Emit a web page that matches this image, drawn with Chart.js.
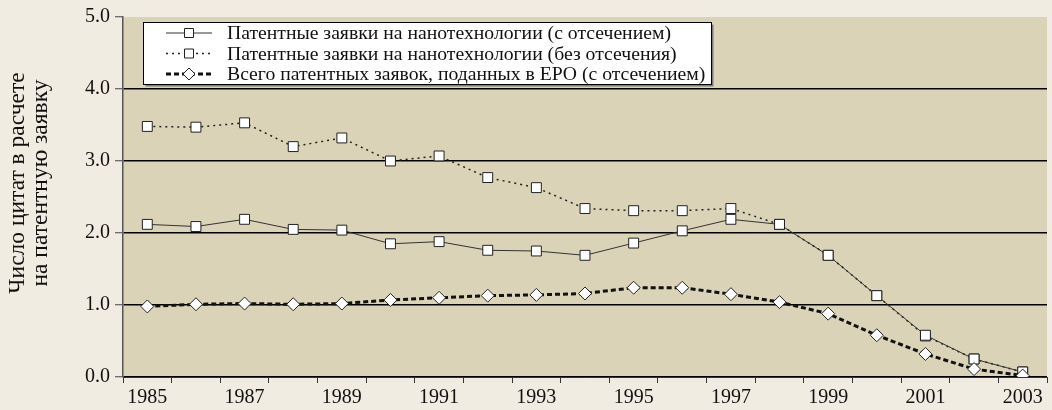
<!DOCTYPE html>
<html lang="ru">
<head>
<meta charset="utf-8">
<title>Число цитат в расчете на патентную заявку</title>
<script src="https://cdn.jsdelivr.net/npm/chart.js@4"></script>
<style>
    html, body { margin: 0; padding: 0; overflow: hidden; background: #f0ece2; }
    #chartBox { width: 1055px; height: 410px; }
</style>
</head>
<body>
<div id="chartBox"><canvas id="citationChart" width="1055" height="410"></canvas></div>
<script>
// --------------- data -----------------
let years = ['1985', '1986', '1987', '1988', '1989', '1990', '1991', '1992', '1993', '1994',
             '1995', '1996', '1997', '1998', '1999', '2000', '2001', '2002', '2003'];

let nanoWithCutoff = [2.12, 2.09, 2.19, 2.05, 2.04, 1.85, 1.88, 1.76, 1.75, 1.69,
                      1.86, 2.03, 2.19, 2.12, 1.69, 1.13, 0.58, 0.25, 0.07];
let nanoNoCutoff = [3.48, 3.47, 3.53, 3.20, 3.32, 3.00, 3.07, 2.77, 2.63, 2.34,
                    2.31, 2.31, 2.34, 2.12, 1.69, 1.13, 0.57, 0.25, 0.07];
let allEpoWithCutoff = [0.98, 1.01, 1.02, 1.01, 1.02, 1.07, 1.10, 1.13, 1.14, 1.16,
                        1.24, 1.24, 1.15, 1.04, 0.88, 0.58, 0.32, 0.11, 0.02];

let seriesLabels = [
    'Патентные заявки на нанотехнологии (с отсечением)',
    'Патентные заявки на нанотехнологии (без отсечения)',
    'Всего патентных заявок, поданных в EPO (с отсечением)'
];
let yTitle = ['Число цитат в расчете', 'на патентную заявку'];

const FONT_FAMILY = '"Liberation Serif", "DejaVu Serif", serif';
const PLOT_BG = '#dad3b7';
const PAGE_BG = '#f0ece2';

// --------------- plugins -----------------
// paints page and plot background
let backgroundPlugin = {
    id: 'backgrounds',
    beforeDraw: function(chart) {
        let ctx = chart.ctx;
        let area = chart.chartArea;
        ctx.save();
        ctx.fillStyle = PAGE_BG;
        ctx.fillRect(0, 0, chart.width, chart.height);
        ctx.fillStyle = PLOT_BG;
        ctx.fillRect(area.left, area.top, area.right - area.left, area.bottom - area.top);
        ctx.restore();
    }
};

// y axis title, two lines, a bit above the middle of the axis
let yTitlePlugin = {
    id: 'yTitle',
    afterDraw: function(chart) {
        let ctx = chart.ctx;
        ctx.save();
        ctx.font = '23.5px ' + FONT_FAMILY;
        ctx.fillStyle = '#111';
        ctx.textAlign = 'center';
        ctx.textBaseline = 'middle';
        yTitle.forEach((line, index) => {
            ctx.save();
            ctx.translate(17.5 + index * 23, 183);
            ctx.rotate(-Math.PI / 2);
            ctx.fillText(line, 0, 0);
            ctx.restore();
        });
        ctx.restore();
    }
};

// legend in a white framed box inside the plot area
let boxLegendPlugin = {
    id: 'boxLegend',
    afterDraw: function(chart) {
        let ctx = chart.ctx;
        let box = { x: 143.5, y: 22.5, w: 568, h: 62 };
        ctx.save();
        ctx.fillStyle = '#7a7a7a';
        ctx.fillRect(box.x + 2, box.y + 2, box.w, box.h);
        ctx.fillStyle = '#fff';
        ctx.fillRect(box.x, box.y, box.w, box.h);
        ctx.strokeStyle = '#000';
        ctx.lineWidth = 1;
        ctx.strokeRect(box.x, box.y, box.w, box.h);

        chart.data.datasets.forEach((dataset, index) => {
            let y = 33 + index * 20.5;
            // line sample
            ctx.save();
            ctx.strokeStyle = dataset.borderColor;
            ctx.lineWidth = dataset.borderWidth;
            ctx.setLineDash(dataset.borderDash || []);
            ctx.beginPath();
            ctx.moveTo(166, y);
            ctx.lineTo(212, y);
            ctx.stroke();
            ctx.restore();

            // marker
            ctx.save();
            ctx.fillStyle = '#fff';
            ctx.strokeStyle = '#222';
            ctx.lineWidth = 1;
            ctx.beginPath();
            if (dataset.pointStyle === 'rectRot') {
                ctx.moveTo(189, y - 6);
                ctx.lineTo(195, y);
                ctx.lineTo(189, y + 6);
                ctx.lineTo(183, y);
                ctx.closePath();
            } else {
                ctx.rect(184.5, y - 4.5, 9, 9);
            }
            ctx.fill();
            ctx.stroke();
            ctx.restore();

            ctx.font = '19.7px ' + FONT_FAMILY;
            ctx.fillStyle = '#111';
            ctx.textAlign = 'left';
            ctx.textBaseline = 'middle';
            ctx.fillText(dataset.label, 227, y + 1);
        });
        ctx.restore();
    }
};

// --------------- chart -----------------
let ctx = document.getElementById('citationChart');
let citationChart = new Chart(ctx, {
    type: 'line',
    data: {
        labels: years,
        datasets: [
            {
                label: seriesLabels[0],
                data: nanoWithCutoff,
                borderColor: '#333',
                borderWidth: 1,
                pointStyle: 'rect',
                pointRadius: 7,
                pointBackgroundColor: '#fff',
                pointBorderColor: '#222',
                pointBorderWidth: 1,
                tension: 0,
                order: 1
            },
            {
                label: seriesLabels[1],
                data: nanoNoCutoff,
                borderColor: '#222',
                borderWidth: 1.5,
                borderDash: [2, 4],
                pointStyle: 'rect',
                pointRadius: 7,
                pointBackgroundColor: '#fff',
                pointBorderColor: '#222',
                pointBorderWidth: 1,
                tension: 0,
                order: 2
            },
            {
                label: seriesLabels[2],
                data: allEpoWithCutoff,
                borderColor: '#111',
                borderWidth: 3,
                borderDash: [5, 3],
                pointStyle: 'rectRot',
                pointRadius: 6.5,
                pointBackgroundColor: '#fff',
                pointBorderColor: '#222',
                pointBorderWidth: 1,
                tension: 0,
                order: 0
            }
        ]
    },
    options: {
        responsive: false,
        animation: false,
        devicePixelRatio: 1,
        layout: {
            padding: { top: 17, left: 0, right: 0, bottom: 0 }
        },
        scales: {
            x: {
                offset: true,
                grid: {
                    offset: true,
                    drawOnChartArea: false,
                    drawTicks: true,
                    tickLength: 6,
                    tickColor: '#333',
                    tickWidth: 1
                },
                border: { color: '#333', width: 1 },
                ticks: {
                    autoSkip: false,
                    maxRotation: 0,
                    padding: 3,
                    color: '#111',
                    font: { family: FONT_FAMILY, size: 20 },
                    callback: function(value, index) {
                        return index % 2 === 0 ? this.getLabelForValue(value) : '';
                    }
                },
                afterFit: function(scale) { scale.height = 33; }
            },
            y: {
                min: 0,
                max: 5,
                grid: {
                    color: function(context) {
                        return context.tick && context.tick.value === 5 ? 'rgba(0,0,0,0)' : '#000';
                    },
                    lineWidth: 1.5,
                    tickLength: 8,
                    tickColor: '#444',
                    tickWidth: 1
                },
                border: { color: '#555', width: 1.5 },
                ticks: {
                    stepSize: 1,
                    padding: 5,
                    color: '#111',
                    font: { family: FONT_FAMILY, size: 20 },
                    callback: function(value) { return value.toFixed(1); }
                },
                afterFit: function(scale) { scale.width = 123; }
            }
        },
        plugins: {
            legend: { display: false },
            tooltip: { enabled: false }
        }
    },
    plugins: [backgroundPlugin, yTitlePlugin, boxLegendPlugin]
});
</script>
</body>
</html>
